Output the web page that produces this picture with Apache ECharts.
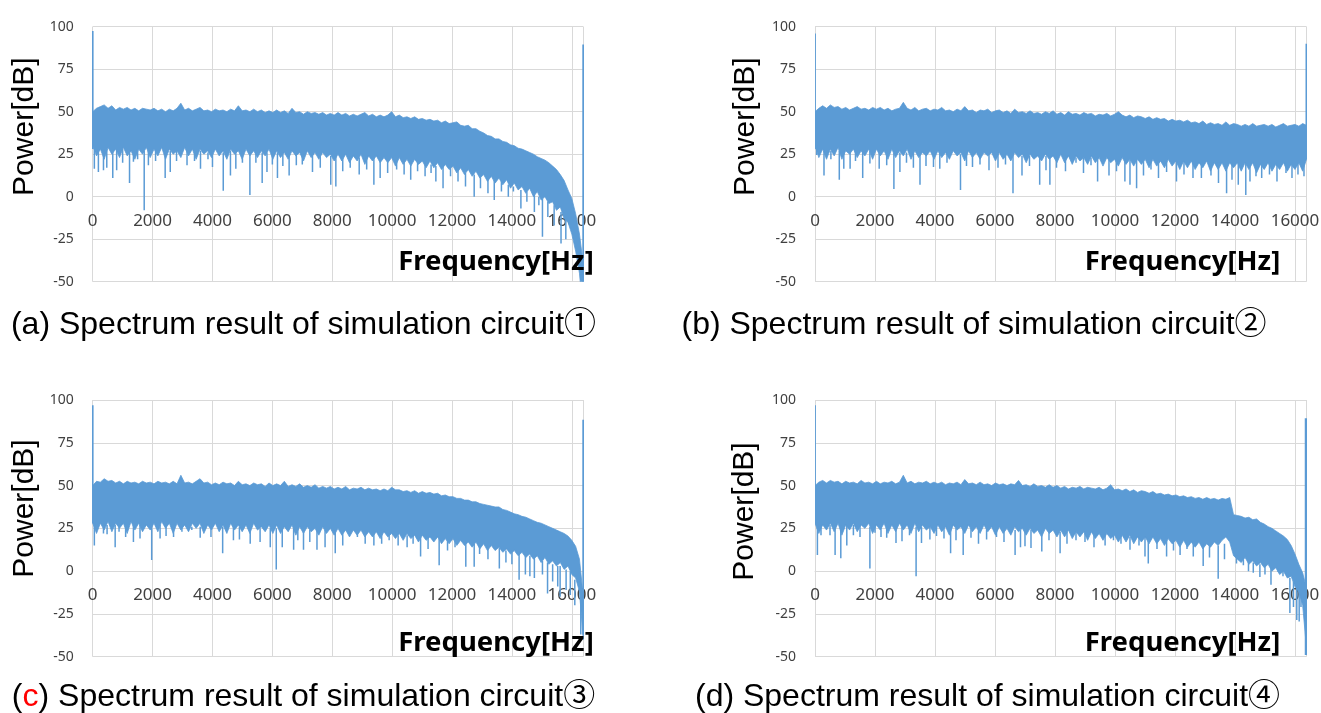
<!DOCTYPE html>
<html><head><meta charset="utf-8">
<script src="https://cdn.jsdelivr.net/npm/echarts@6/dist/echarts.min.js"></script>
<style>html,body{margin:0;padding:0;background:#fff}#c{width:1321px;height:713px}</style>
</head><body><div id="c"></div>
<script>
// Frequency step of the envelope arrays (Hz)
const TOP_STEP = 128, BOT_STEP = 128;
const X_MAX = 16384;

// ---------- (a) circuit 1 ----------
const topA = [50,52,53,54,52,53.5,51,52.5,51.5,52.5,51,52,50.5,52,51.5,51,
52,50.5,51.5,50,51.5,50.5,52,55,51,52,50.5,51.5,52.5,50.5,51,50,
51.5,50.5,51,50,51.5,50.5,53.5,50.5,51,50,51.5,50,51,49.5,50.5,49.5,
51,49.5,50.5,49,52,49.5,50,48.5,50,49,49.5,48.5,49.5,48,49,48,
49.5,48,49,47.5,48.5,47.5,48.5,49.5,47.5,48.5,47,48,47,48,50,47,
48,46.5,47,46,47,45.5,46,45,45.5,44.5,45,43.5,44.5,43,43.5,44,
42,41.5,42,40,40,38.5,37.5,36,35.5,34,34,32.5,32,30.5,30,28.5,
28,27,26,25,23.5,22.5,21.5,20,18,16,13,9.5,4,-1,-10,-22,-40];
const botA = [30,24,28,22,29,25,28,23,29,24,27,22,28,25,29,23,
28,24,29,22,28,25,27,23,29,24,28,22,28,25,27,23,
28,24,27,22,28,25,27,22,28,24,27,23,27,24,28,22,
27,23,26,22,27,24,26,21,27,23,26,22,26,23,25,21,
25,21,25,20,24,21,25,19,24,21,24,20,23,20,23,18,
23,19,22,18,22,19,21,17,21,17,20,16,19,16,18,14,
17,13,16,12,15,11,13,9,12,8,11,7,10,5,8,4,
6,2,5,0,3,-2,0,-4,-3,-8,-6,-13,-15,-22,-32,-45,-70];
const dipsA = [[55,30,16.5],[190,28,14.5],[360,28,15.5],[470,28,17],[670,28,11],[800,28,15.5],[1000,28,20],[1230,27,8],[1360,27,20.5],[1500,28,22],[1720,27,-8],[1860,27,18.5],[2100,28,21],[2420,27,11],[2590,27,14.5],[2800,27,21],[3150,28,18.5],[3400,27,21],[3600,27,16.5],[3850,26,22],[4000,27,17.5],[4360,26,3.5],[4600,27,12.5],[4780,26,16.5],[5000,27,20],[5250,26,1],[5450,26,20],[5660,26,8],[5820,26,14.5],[6000,26,19],[6170,26,11],[6350,25,18],[6560,26,12.5],[6800,25,18.5],[7000,25,19],[7340,25,14.5],[7600,25,17],[7950,24,7],[8120,24,6],
[8350,24,15],[8600,24,17],[8900,23,13],[9150,23,16],[9390,23,7],[9600,23,11],[9850,22,14],[10150,22,16],[10400,21,13],[10620,21,10],[10850,21,15],[11100,20,12],[11300,19,14],[11460,18,9],[11700,18,5],[11950,17,12],[12200,16,9],[12450,14,6],[12740,13,0],[12950,12,5],[13200,11,2],[13410,10,-2],[13650,9,3],[13880,7,0],[14050,6,3],[14300,4,-7],[14500,3,-3],[14750,1,-9],[14900,0,-5],[15020,-1,-23.5],[15200,-3,-12],[15410,-5,-17],[15640,-9,-27.5],[15800,-12,-25]];
const spikesA = [[0,28,97.5],[16384,-50,89.5]];

// ---------- (b) circuit 2 ----------
const topB = [50,52,53.5,52,54,52.5,53,51.5,52.5,51,52,53,51.5,52,51,52.5,
51.5,52.5,51,52,50.5,51.5,52,55.5,52,51,52.5,50.5,51.5,52,50.5,51.5,
51,52.5,50.5,51,50,51.5,50.5,53,50.5,51,49.5,51,50.5,51.5,49.5,50.5,
51,49.5,50.5,49,51.5,49.5,50,49,50.5,49,49.5,48.5,50,49,50.5,48.5,
49.5,48,50,48.5,49,48,49.5,48.5,49,47.5,48.5,48,49,47.5,48.5,50,
48,47,48,46.5,47.5,47,46,47,45.5,46.5,45.5,46,44.5,45.5,44.5,45,
44,45,43.5,44,43,44.5,42.5,43.5,42.5,43,42,44,42,43,42.5,41.5,
42.5,41.5,43,41.5,42,42.5,41.5,42.5,41,42,43,41.5,42,42.5,41.5,43,42];
const botB = [30,23,28,22,28,24,29,22,27,25,28,23,27,24,28,22,
28,24,27,22,28,23,27,24,28,22,27,23,26,24,27,22,
27,23,26,22,27,24,26,21,27,23,26,22,26,24,26,21,
26,22,25,21,26,23,25,20,25,22,24,21,25,22,24,20,
25,20,24,19,24,21,23,19,24,20,23,18,23,20,22,18,
23,19,22,18,22,19,22,17,22,18,21,17,22,18,21,16,
21,17,21,16,20,17,21,15,20,16,20,15,20,17,20,15,
20,16,20,14,19,16,20,15,19,16,20,15,19,16,20,15,22];
const dipsB = [[55,30,24.5],[300,27,12.5],[530,27,22],[810,27,10],[960,27,16.5],[1170,27,16.5],[1350,27,21],[1590,27,11],[1830,27,19.5],[2140,27,16.5],[2390,27,18.5],[2630,26,4.5],[2830,26,14.5],[3050,26,20],[3280,26,17],[3500,26,7],[3700,26,18],[3950,26,17.5],[4160,26,16.5],[4400,26,20],[4850,25,4],[5050,26,18],[5250,25,17.5],[5500,25,19],[5800,25,15.5],[6100,25,17],[6350,25,19],[6600,25,2],[6900,24,12.5],[7150,24,18],[7490,24,7],[7700,24,15.5],[7830,24,7],
[8050,24,17],[8350,24,15],[8700,23,20],[8950,23,14],[9200,23,18.5],[9420,23,9],[9800,22,12.5],[10050,22,15],[10330,22,9],[10500,22,7],[10720,22,5],[10950,22,12.5],[11200,21,16],[11450,21,11],[11720,21,14.5],[12050,21,9],[12300,21,13],[12600,20,11],[12880,20,11],[13200,20,12.5],[13450,20,8],[13720,20,2],[13900,20,10],[14110,20,7],[14360,20,1],[14500,20,9],[14700,20,12],[14890,20,11],[15150,20,13],[15400,20,9],[15700,20,14],[15900,20,11],[16100,20,13],[16300,20,12]];
const spikesB = [[0,28,96],[16384,22,90]];

// ---------- (c) circuit 3 ----------
const topC = [50,52.5,52,54,52.5,53,51.5,52.5,51,52.5,51.5,52,51,52.5,51.5,52,
51,52.5,51.5,52,51,52.5,51,56,51.5,52,51,52.5,54,51.5,52,50.5,
51.5,50.5,52,51,51.5,50,52.5,50.5,51,50,51.5,50.5,51,49.5,51.5,50,
51,50,52.5,49.5,50.5,49.5,51,49,50,49,50.5,48.5,49.5,48.5,49.5,48,
49,48,49.5,47.5,48.5,48,49,47.5,48.5,47.5,48,47,48,47,49,47.5,
47.5,46.5,47,46,47,45.5,46.5,45.5,46,45,45.5,44,44.5,43.5,43.5,42.5,
42.5,41.5,41.5,40.5,40.5,39.5,39,38.5,38,37.5,37.5,36,35.5,34.5,33.5,33,
32,31.5,30.5,29.5,28.5,28,27,26,25,24,23,22,20.5,18,14.5,7,-15];
const botC = [28,22,28,24,29,23,28,25,28,22,29,24,28,23,27,24,
28,23,29,25,28,22,28,24,27,23,28,25,28,22,27,24,
28,23,27,22,28,24,27,23,27,22,28,24,26,23,27,22,
27,22,26,23,27,21,26,22,26,23,25,21,26,22,25,21,
25,21,24,20,24,21,24,20,23,20,23,19,23,20,22,19,
22,18,22,19,21,17,21,18,20,17,20,16,19,16,19,15,
18,15,17,14,17,13,16,12,15,12,14,11,13,10,12,9,
11,8,10,7,9,5,8,4,6,3,5,1,3,-2,-4,-12,-40];
const dipsC = [[55,28,15],[360,27,22],[480,27,21.5],[750,27,14],[880,27,23],[1100,27,20],[1360,27,17],[1580,27,19],[1970,27,6.5],[2250,27,19],[2450,27,20.5],[2700,26,20],[2980,26,23],[3310,26,24],[3590,26,19.5],[3950,26,20],[4340,26,10.5],[4700,26,18],[4900,26,18.5],[5260,25,16],[5590,25,17],[5930,25,14],[6130,25,1],[6330,25,14],[6710,25,12.5],[6850,25,18],[7040,24,12.5],[7250,24,17],[7490,24,12.5],[7760,24,14],[8100,24,10.5],
[8350,23,15],[8840,23,20],[9100,23,16],[9390,22,15],[9650,22,16],[9900,22,18],[10200,21,15],[10500,21,14],[10700,21,16],[10950,20,8.5],[11200,20,13],[11570,19,3.5],[11850,19,12],[12100,18,14],[12460,17,2.5],[12740,16,2.5],[12920,15,10],[13200,15,7],[13580,13.5,1.5],[13800,12,5],[14000,11,4],[14240,10,-5],[14450,9,-2],[14600,9,-3],[14750,8,-4],[15020,6,-2],[15190,5,-13],[15360,4,-6],[15530,3,-9],[15610,3,-15],[15810,1,-11],[15950,0,-14],[16100,-5,-20],[16300,-10,-37]];
const spikesC = [[0,28,97],[16384,-37,88.5]];

// ---------- (d) circuit 4 ----------
const topD = [50,52,53,51.5,53,52,52.5,51,52.5,51.5,52,51,53,51.5,52,51,
52.5,51,52,51.5,52.5,51,52,56,51.5,52.5,51,52,51.5,52.5,51,52,
51,52,50.5,51.5,51,52,50.5,53.5,51,51.5,50.5,52,50.5,51,50,51.5,
50.5,51,50,51,50.5,53,50,50.5,49.5,51,49.5,50,49,50.5,49,50,
48.5,49.5,48,49,48.5,49.5,48,49,48.5,48,49,47.5,48.5,50.5,47.5,48,
47,48,46.5,47.5,46,47,46.5,45.5,46.5,45,45.5,44.5,45,44,44.5,43.5,
44,43,43.5,42.5,43,42,43,42,42.5,41.5,42.5,42,43,33,32.5,32,
31,31.5,30,30.5,28.5,27.5,26,25,23.5,22,20.5,18.5,15,10,4,-1,-10];
const botD = [28,22,27,24,28,23,28,21,27,24,28,23,27,25,28,22,
27,24,28,22,27,23,28,24,27,22,28,23,27,24,26,22,
27,23,26,21,27,24,26,22,27,23,26,22,27,23,26,21,
26,22,25,21,26,23,25,21,25,22,24,20,25,22,24,20,
24,20,24,19,23,20,23,18,23,19,22,18,22,19,21,17,
21,17,21,16,20,17,20,16,20,16,19,15,19,16,18,14,
18,14,17,14,17,13,16,14,17,15,18,20,17,9,7,5,
8,4,6,3,5,2,4,0,2,-2,0,-4,-3,-9,-12,-20,-45];
const dipsD = [[80,28,9.5],[200,27,21],[500,27,21],[670,27,9.5],[860,27,7.5],[1060,27,15],[1280,27,21],[1500,27,20],[1830,26,1.5],[2000,27,22.5],[2200,26,20],[2390,26,19.5],[2700,26,16.5],[2900,26,17.5],[3150,26,21],[3370,26,-3],[3550,26,16.5],[3830,26,18.5],[4050,26,20.5],[4300,26,19],[4520,25,10.5],[4700,25,18],[4940,25,9.5],[5200,25,19.5],[5450,25,16],[5720,25,18.5],[6050,25,20],[6300,24,17],[6670,24,9.5],[6850,24,14],[7000,24,14.5],[7200,24,13.5],[7560,24,11.5],[7800,24,18],
[8170,23,10.5],[8400,23,16],[8700,23,18],[9000,22,17],[9300,22,14],[9670,22,15],[9950,21,18],[10200,21,16],[10500,20,12.5],[10800,20,15],[11000,20,8.5],[11110,19,4.5],[11400,19,13],[11720,18,8.5],[11950,18,12],[12170,17,9.5],[12400,17,13],[12610,16,8.5],[12940,16,3],[13150,15,8],[13440,15,-4.5],[13650,16,7],[14050,9,4.5],[14280,7,3.5],[14450,6,0],[14610,5,-1],[14830,4,-3.5],[15000,3,-2],[15200,2,-8],[15440,1.5,-0.5],[15600,0,-3],[15830,-4,-24.5],[15950,-6,-21],[16060,-9,-28.5],[16140,-11,-29.5],[16200,-13,-21]];
const spikesD = [[0,28,97],[16384,-49,89.3]];

// ---------- texts ----------
const captions = [
  '(a) Spectrum result of simulation circuit\u2460',
  '(b) Spectrum result of simulation circuit\u2461',
  '({r|c}) Spectrum result of simulation circuit\u2462',
  '(d) Spectrum result of simulation circuit\u2463'
];
const yTitle = 'Power[dB]';
const xTitle = 'Frequency[Hz]';

// ---------- build ----------
const BLUE = '#5b9bd5', GRID = '#d9d9d9', LABEL = '#404040';
const panels = [
  {top: topA, bot: botA, dips: dipsA, spikes: spikesA},
  {top: topB, bot: botB, dips: dipsB, spikes: spikesB},
  {top: topC, bot: botC, dips: dipsC, spikes: spikesC},
  {top: topD, bot: botD, dips: dipsD, spikes: spikesD}
];
const layout = [
  {grid:{left:92.7, top:26.7, width:490.6, height:255}, power:[25,126.7], freq:[496,261.7], cap:[303.5,325], spikeW:[1.8,2]},
  {grid:{left:815, top:26.7, width:491.5, height:255}, power:[746,126.7], freq:[1182.5,261.7], cap:[974,325], spikeW:[1.8,2]},
  {grid:{left:92.7, top:400, width:490.6, height:256.7}, power:[25,508.5], freq:[496,643.3], cap:[303.5,697], spikeW:[1.8,2]},
  {grid:{left:815, top:400, width:491.5, height:256.7}, power:[745,511.5], freq:[1182.5,643.3], cap:[987.5,697], spikeW:[1.8,3.5]}
];

function bandRender(p) {
  return function (params, api) {
    const pts = [];
    for (let i = 0; i < p.top.length; i++) pts.push(api.coord([i * TOP_STEP, p.top[i]]));
    for (let j = p.bot.length - 1; j >= 0; j--) pts.push(api.coord([j * BOT_STEP, p.bot[j]]));
    return {type: 'polygon', shape: {points: pts}, style: {fill: BLUE, stroke: BLUE, lineWidth: 0.8}};
  };
}
function segRender(widthFn) {
  return function (params, api) {
    const f = api.value(0);
    const a = api.coord([f, api.value(1)]);
    const b = api.coord([f, api.value(2)]);
    return {type: 'line', shape: {x1: a[0], y1: a[1], x2: b[0], y2: b[1]},
      style: {stroke: BLUE, lineWidth: widthFn(params.dataIndex)}};
  };
}

const grid = [], xAxis = [], yAxis = [], series = [], graphic = [];
panels.forEach(function (p, k) {
  const L = layout[k];
  grid.push(Object.assign({outerBoundsMode: 'none', containLabel: false}, L.grid));
  // x axis sits on the 0 dB line: the y range is -50..100, so 0 dB is 1/3 of the height above the bottom
  xAxis.push({gridIndex: k, type: 'value', min: 0, max: X_MAX, interval: 2000,
    offset: -L.grid.height / 3,
    axisLine: {show: true, onZero: false, lineStyle: {color: GRID, width: 1}},
    axisTick: {show: false},
    axisLabel: {margin: 16, fontSize: 17, fontFamily: 'Noto Sans', color: LABEL, showMaxLabel: false,
      hideOverlap: false, formatter: function (v) { return String(v); }},
    splitLine: {show: true, lineStyle: {color: GRID, width: 1}}});
  yAxis.push({gridIndex: k, type: 'value', min: -50, max: 100, interval: 25,
    axisLine: {show: false}, axisTick: {show: false},
    axisLabel: {margin: 19, fontSize: 14, fontFamily: 'Noto Sans', color: LABEL},
    splitLine: {show: true, lineStyle: {color: GRID, width: 1}}});
  series.push({type: 'custom', xAxisIndex: k, yAxisIndex: k, clip: true, silent: true, z: 2,
    data: [[0, 0]], renderItem: bandRender(p)});
  series.push({type: 'custom', xAxisIndex: k, yAxisIndex: k, clip: true, silent: true, z: 3,
    data: p.dips, renderItem: segRender(function () { return 1.5; })});
  series.push({type: 'custom', xAxisIndex: k, yAxisIndex: k, clip: true, silent: true, z: 4,
    data: p.spikes, renderItem: segRender(function (i) { return L.spikeW[i]; })});

  graphic.push({type: 'text', z: 100, x: L.power[0], y: L.power[1], rotation: Math.PI / 2,
    style: {text: yTitle, x: 0, y: 0, align: 'center', verticalAlign: 'middle',
      fontFamily: 'Liberation Sans', fontSize: 30, fill: '#000'}});
  graphic.push({type: 'text', z: 100, x: L.freq[0], y: L.freq[1],
    style: {text: xTitle, x: 0, y: 0, align: 'center', verticalAlign: 'middle',
      fontFamily: 'Noto Sans', fontWeight: 'bold', fontSize: 27.5, fill: '#000'}});
  graphic.push({type: 'text', z: 100, x: L.cap[0], y: L.cap[1],
    style: {text: captions[k], x: 0, y: 0, align: 'center', verticalAlign: 'middle',
      fontFamily: "'Liberation Sans', 'Noto Sans CJK KR'", fontSize: 32, fill: '#000',
      rich: {r: {fill: '#ff0000', fontFamily: "'Liberation Sans'", fontSize: 32}}}});
});

const chart = echarts.init(document.getElementById('c'), null, {renderer: 'canvas'});
chart.setOption({
  animation: false,
  backgroundColor: '#ffffff',
  grid: grid, xAxis: xAxis, yAxis: yAxis, series: series, graphic: graphic
});
</script>
</body></html>
